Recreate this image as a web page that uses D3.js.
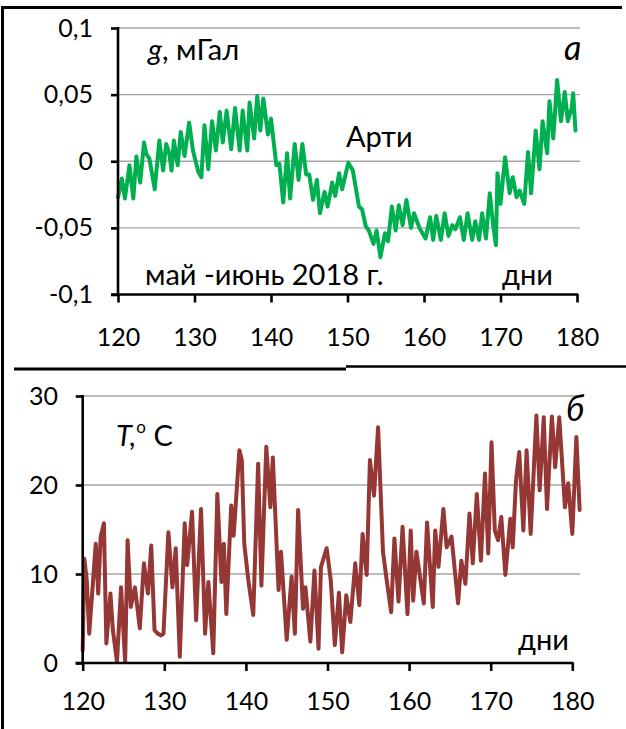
<!DOCTYPE html>
<html>
<head>
<meta charset="utf-8">
<script src="https://cdn.jsdelivr.net/npm/d3@7"></script>
<style>
  html, body { margin: 0; padding: 0; background: #fff; }
  svg { display: block; }
  text { font-family: Lato, "Open Sans", sans-serif; fill: #000; }
</style>
</head>
<body>
<svg id="chart" width="626" height="729"></svg>
<script>
// Day of year (May–June 2018)
const xTicks = [120, 130, 140, 150, 160, 170, 180];

// Panel a: gravity variation, mGal (station Arti)
const gTicks = [0.1, 0.05, 0, -0.05, -0.1];
const gDays = [
  120.0, 120.5, 120.9, 121.5, 122.0, 122.4, 122.9, 123.4, 123.7, 124.1,
  124.8, 125.4, 125.9, 126.3, 126.7, 127.0, 127.3, 127.8, 128.2, 128.7,
  129.3, 129.8, 130.5, 130.9, 131.3, 131.8, 132.3, 132.8, 133.3, 133.7,
  134.2, 134.8, 135.3, 135.9, 136.3, 136.9, 137.2, 137.8, 138.2, 138.6,
  139.0, 139.6, 140.0, 140.7, 141.1, 141.6, 142.1, 142.5, 143.1, 143.6,
  144.1, 144.6, 145.0, 145.5, 146.0, 146.4, 147.0, 147.4, 148.0, 148.4,
  148.9, 149.3, 150.1, 150.7, 151.5, 151.9, 152.4, 152.8, 153.4, 153.8,
  154.3, 154.9, 155.3, 155.8, 156.3, 156.7, 157.2, 157.7, 158.3, 158.7,
  159.4, 159.8, 160.2, 160.8, 161.2, 161.6, 162.2, 162.7, 163.2, 163.7,
  164.1, 164.7, 165.2, 165.7, 166.3, 166.7, 167.2, 167.6, 168.1, 168.6,
  169.0, 169.4, 169.6, 170.0, 170.6, 171.2, 171.6, 172.1, 172.5, 173.1,
  173.6, 174.0, 174.6, 175.1, 175.5, 176.1, 176.4, 176.9, 177.4, 177.9,
  178.4, 178.8, 179.3, 179.5, 179.8
];
const gValues = [
  -0.027, -0.013, -0.028, -0.003, -0.028, 0.0035, -0.016, 0.014, 0.0055, 0.002,
  -0.021, 0.0155, -0.007, 0.013, 0.006, -0.007, 0.0155, -0.003, 0.022, 0.004,
  0.029, 0.008, -0.008, -0.012, 0.027, -0.006, 0.030, 0.008, 0.037, 0.014,
  0.038, 0.009, 0.040, 0.008, 0.038, 0.008, 0.044, 0.017, 0.049, 0.023,
  0.047, 0.020, 0.032, -0.003, -0.002, -0.031, 0.006, -0.028, 0.013, -0.014,
  0.013, -0.010, -0.010, -0.029, -0.014, -0.039, -0.023, -0.034, -0.016, -0.026,
  -0.009, -0.021, -0.001, -0.007, -0.034, -0.036, -0.049, -0.052, -0.062, -0.052,
  -0.072, -0.054, -0.060, -0.034, -0.052, -0.033, -0.048, -0.029, -0.050, -0.039,
  -0.050, -0.054, -0.058, -0.042, -0.059, -0.041, -0.059, -0.039, -0.056, -0.048,
  -0.051, -0.042, -0.059, -0.039, -0.059, -0.045, -0.059, -0.039, -0.058, -0.024,
  -0.046, -0.063, -0.009, -0.032, 0.003, -0.024, -0.012, -0.027, -0.022, -0.032,
  0.007, -0.024, 0.023, -0.006, 0.030, 0.006, 0.045, 0.017, 0.061, 0.030,
  0.052, 0.030, 0.040, 0.051, 0.023
];

// Panel б: air temperature, °C
const tTicks = [0, 10, 20, 30];
const tDays = [
  120.0, 120.2, 120.5, 120.8, 121.6, 121.9, 122.2, 122.6, 122.9, 123.4,
  123.7, 124.2, 124.7, 125.2, 125.5, 125.9, 126.4, 127.0, 127.5, 128.0,
  128.4, 128.8, 129.2, 129.6, 129.9, 130.5, 131.0, 131.4, 131.9, 132.5,
  132.8, 133.4, 133.9, 134.5, 135.0, 135.4, 136.0, 136.5, 137.0, 137.3,
  137.6, 138.2, 138.5, 139.2, 139.5, 139.8, 140.3, 140.9, 141.5, 141.9,
  142.5, 143.0, 143.3, 144.0, 144.3, 145.0, 145.6, 146.0, 146.4, 147.0,
  147.3, 147.9, 148.4, 148.9, 149.2, 149.9, 150.4, 150.9, 151.4, 151.8,
  152.3, 152.8, 153.4, 153.9, 154.3, 154.8, 155.2, 155.7, 156.2, 156.8,
  157.2, 157.8, 158.2, 158.7, 159.2, 159.8, 160.2, 160.5, 160.9, 161.8,
  162.2, 162.9, 163.2, 163.6, 164.2, 164.6, 165.2, 166.0, 166.4, 166.9,
  167.4, 167.8, 168.3, 168.8, 169.3, 169.7, 170.1, 170.5, 170.9, 171.3,
  171.8, 172.4, 172.7, 173.1, 173.5, 174.0, 174.4, 174.9, 175.6, 176.0,
  176.5, 176.9, 177.5, 177.9, 178.4, 179.1, 179.5, 180.0, 180.5, 180.9
];
const tValues = [
  1.4, 11.7, 9.3, 3.3, 13.4, 7.8, 14.2, 15.7, 2.2, 7.8,
  3.7, 0.1, 8.5, 0.1, 13.8, 6.3, 8.5, 3.9, 11.2, 7.8,
  13.2, 3.7, 3.3, 3.1, 3.3, 14.7, 8.5, 12.9, 0.7, 15.7,
  11.0, 17.0, 4.8, 17.3, 3.3, 9.1, 1.1, 19.0, 9.1, 13.4,
  5.5, 17.7, 14.3, 23.9, 22.8, 13.4, 9.3, 5.4, 22.4, 8.7,
  24.3, 17.5, 23.1, 8.2, 12.5, 2.6, 9.7, 3.3, 17.2, 6.1,
  8.5, 2.4, 10.4, 1.6, 10.8, 12.9, 9.3, 2.0, 7.9, 1.2,
  7.6, 4.6, 11.2, 6.5, 14.5, 9.9, 22.8, 18.8, 26.5, 12.5,
  9.7, 5.7, 14.0, 6.9, 15.3, 5.5, 14.9, 7.0, 12.5, 6.7,
  15.8, 6.3, 14.9, 10.8, 17.3, 13.0, 14.2, 6.7, 11.5, 8.9,
  16.8, 11.2, 19.0, 11.5, 21.3, 12.3, 24.8, 14.9, 13.8, 16.4,
  9.9, 16.2, 13.0, 20.5, 23.7, 14.9, 23.9, 14.5, 27.8, 19.4,
  27.6, 17.3, 27.7, 22.0, 27.6, 17.5, 20.2, 14.5, 25.4, 17.2
];

const ruLocale = d3.formatLocale({ decimal: ",", thousands: " ", grouping: [3], currency: ["", ""], minus: "-" });
const fmtDec = ruLocale.format("~g");

const svg = d3.select("#chart");
svg.append("rect").attr("width", 626).attr("height", 729).attr("fill", "#fff");

const GRID = "#a6a6a6";
const FS = 25;

function panel(opts) {
  const { x, y, yTicks, yFmt, days, values, color, gridRight, labelX, xLabelY } = opts;
  const g = svg.append("g");
  const x0 = x.range()[0];
  const [yBottom, yTop] = y.range();

  // horizontal grid
  g.append("g").selectAll("line").data(yTicks.filter(v => v !== y.domain()[0]))
    .join("line")
    .attr("x1", x0).attr("x2", gridRight)
    .attr("y1", d => y(d)).attr("y2", d => y(d))
    .attr("stroke", GRID).attr("stroke-width", 1.4);

  // series
  const line = d3.line().x((d, i) => x(days[i])).y(d => y(d));
  g.append("path").datum(values)
    .attr("d", line)
    .attr("fill", "none")
    .attr("stroke", color)
    .attr("stroke-width", 4)
    .attr("stroke-linejoin", "round")
    .attr("stroke-linecap", "round");

  // y axis
  const yAxis = d3.axisLeft(y).tickValues(yTicks).tickFormat(yFmt)
    .tickSize(7).tickSizeOuter(0).tickPadding(16);
  const ya = g.append("g").attr("transform", `translate(${x0},0)`).call(yAxis);
  ya.select(".domain").attr("stroke", "#000").attr("stroke-width", 2.6)
    .attr("d", `M0,${yTop - 1}V${yBottom}`);
  ya.selectAll(".tick line").attr("stroke", "#000").attr("stroke-width", 2.6);
  ya.selectAll(".tick text").attr("font-size", FS).attr("font-family", "Lato, sans-serif")
    .attr("fill", "#000").attr("x", labelX - x0);

  // x axis
  const xAxis = d3.axisBottom(x).tickValues(xTicks).tickFormat(d3.format("d"))
    .tickSize(8).tickSizeOuter(0).tickPadding(22);
  const xa = g.append("g").attr("transform", `translate(0,${yBottom})`).call(xAxis);
  xa.select(".domain").attr("stroke", "#000").attr("stroke-width", 2.6)
    .attr("d", `M${x0 - 7},0H${x.range()[1] + 1.3}`);
  xa.selectAll(".tick line").attr("stroke", "#000").attr("stroke-width", 2.6);
  xa.selectAll(".tick text").attr("font-size", FS).attr("font-family", "Lato, sans-serif")
    .attr("fill", "#000").attr("dy", null).attr("y", xLabelY - yBottom).attr("dominant-baseline", "middle");
  return g;
}

// Panel a
const xA = d3.scaleLinear([120, 180], [118, 577]);
const yA = d3.scaleLinear([-0.1, 0.1], [294.5, 28]);
panel({ x: xA, y: yA, yTicks: gTicks, yFmt: fmtDec, days: gDays, values: gValues,
        color: "#00b050", gridRight: 580, labelX: 93, xLabelY: 340 });

// Panel б
const xB = d3.scaleLinear([120, 180], [82.7, 572.3]);
const yB = d3.scaleLinear([0, 30], [663, 396]);
panel({ x: xB, y: yB, yTicks: tTicks, yFmt: d3.format("d"), days: tDays, values: tValues,
        color: "#953735", gridRight: 580, labelX: 58, xLabelY: 704 });

// annotations
const ann = svg.append("g").attr("font-size", 29);
const gl = ann.append("text").attr("x", 148).attr("y", 60);
gl.append("tspan").attr("font-style", "italic").text("g");
gl.append("tspan").text(", мГал");
ann.append("text").attr("x", 564).attr("y", 60).attr("font-size", 34).attr("font-style", "italic").text("а");
ann.append("text").attr("x", 346).attr("y", 147).text("Арти");
ann.append("text").attr("x", 145).attr("y", 285).text("май -июнь 2018 г.");
ann.append("text").attr("x", 502).attr("y", 285).text("дни");

const tl = ann.append("text").attr("x", 116).attr("y", 446);
tl.append("tspan").attr("font-style", "italic").text("T,");
tl.append("tspan").attr("font-size", 17).attr("dx", 0).attr("dy", -13).text("o");
tl.append("tspan").attr("dy", 13).text(" С");
ann.append("text").attr("x", 566).attr("y", 421).attr("font-size", 34).attr("font-style", "italic").text("б");
ann.append("text").attr("x", 518).attr("y", 650).text("дни");

// frame and divider
const frame = svg.append("g").attr("stroke", "#000").attr("fill", "none");
frame.append("line").attr("x1", 2.5).attr("x2", 2.5).attr("y1", 6).attr("y2", 729).attr("stroke-width", 3);
frame.append("line").attr("x1", 1).attr("x2", 622).attr("y1", 7.5).attr("y2", 7.5).attr("stroke-width", 3);
frame.append("line").attr("x1", 14).attr("x2", 346).attr("y1", 369).attr("y2", 369).attr("stroke-width", 3);
frame.append("line").attr("x1", 346).attr("x2", 626).attr("y1", 366.5).attr("y2", 366.5).attr("stroke-width", 2.6);
</script>
</body>
</html>
